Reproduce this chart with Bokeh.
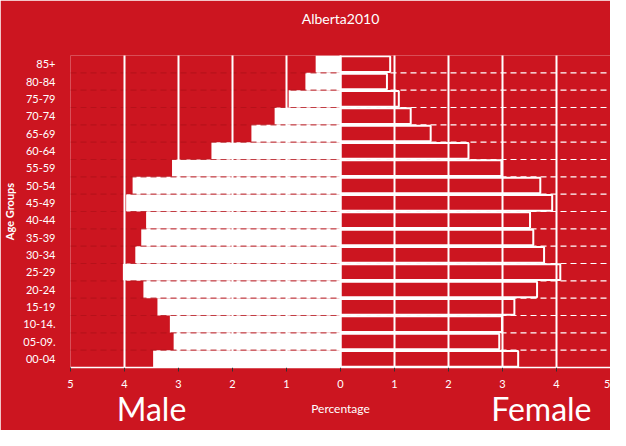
from bokeh.plotting import figure
from bokeh.models import FixedTicker, LinearAxis, Title
from bokeh.embed import file_html
from bokeh.resources import INLINE

age_groups = ["00-04", "05-09.", "10-14.", "15-19", "20-24", "25-29", "30-34", "35-39",
              "40-44", "45-49", "50-54", "55-59", "60-64", "65-69", "70-74", "75-79",
              "80-84", "85+"]
male_pct = [3.47, 3.09, 3.16, 3.39, 3.65, 4.03, 3.80, 3.69, 3.60, 3.97, 3.85, 3.12,
            2.39, 1.65, 1.22, 0.96, 0.65, 0.46]
female_pct = [3.29, 2.94, 2.99, 3.22, 3.64, 4.07, 3.77, 3.57, 3.51, 3.92, 3.70, 2.98,
              2.37, 1.67, 1.30, 1.08, 0.86, 0.92]
x_ticks = [-5, -4, -3, -2, -1, 0, 1, 2, 3, 4, 5]
x_tick_labels = ["5", "4", "3", "2", "1", "0", "1", "2", "3", "4", "5"]
side_ticks = [-3.5, 3.72]
side_labels = ["Male", "Female"]

RED = "#CC1520"
FONT = "Lato"

n = len(age_groups)
y_centers = [i + 0.5 for i in range(n)]
boundaries = [i for i in range(1, n)]
neg_male = [-v for v in male_pct]

p = figure(width=610, height=430, x_range=(-5, 5), y_range=(0, n),
           output_backend="svg", toolbar_location=None,
           min_border_left=60, min_border_right=0, min_border_top=0, min_border_bottom=0)
p.background_fill_color = RED
p.border_fill_color = RED
p.outline_line_color = None

p.title.text = "Alberta2010"
p.title.align = "center"
p.title.text_color = "white"
p.title.text_font = FONT
p.title.text_font_size = "14px"
p.title.text_font_style = "normal"
p.title.standoff = 14

# empty spacer between the title and the plot area
p.add_layout(Title(text=" ", text_font_size="10px", standoff=9), "above")

# right-side dashed row separators
p.segment(x0=0, x1=5, y0=boundaries, y1=boundaries, line_color="white",
          line_dash="6 4", line_width=1.2)

# male bars
p.hbar(y=y_centers, left=neg_male, right=0, height=1.0, fill_color="white",
       line_color=None)

# left-side dashed separators
p.segment(x0=-5, x1=0, y0=boundaries, y1=boundaries, line_color="#B01018",
          line_alpha=0.75, line_dash="6 4", line_width=1.2)

# female bars
p.hbar(y=y_centers, left=0, right=female_pct, height=0.9, fill_color=RED,
       line_color="white", line_width=2)

# axes
xa = p.xaxis[0]
xa.ticker = FixedTicker(ticks=x_ticks)
xa.major_label_overrides = {t: l for t, l in zip(x_ticks, x_tick_labels)}
xa.axis_line_color = "white"
xa.axis_line_width = 1.5
xa.major_tick_line_color = "#333333"
xa.major_tick_out = 4
xa.major_tick_in = 0
xa.minor_tick_line_color = None
xa.major_label_text_color = "white"
xa.major_label_text_font = FONT
xa.major_label_text_font_size = "11px"
xa.major_label_standoff = 8
xa.axis_label = "Percentage"
xa.axis_label_text_color = "white"
xa.axis_label_text_font = FONT
xa.axis_label_text_font_size = "12px"
xa.axis_label_text_font_style = "normal"
xa.axis_label_standoff = 10

side_axis = LinearAxis(ticker=FixedTicker(ticks=side_ticks),
                       major_label_overrides={t: l for t, l in zip(side_ticks, side_labels)},
                       axis_line_color=None, major_tick_line_color=None,
                       minor_tick_line_color=None, major_label_standoff=-36,
                       major_label_text_color="white", major_label_text_font=FONT,
                       major_label_text_font_size="32px")
p.add_layout(side_axis, "below")

ya = p.yaxis[0]
ya.ticker = FixedTicker(ticks=y_centers)
ya.major_label_overrides = {c: l for c, l in zip(y_centers, age_groups)}
ya.axis_line_color = None
ya.major_tick_line_color = None
ya.minor_tick_line_color = None
ya.major_label_text_color = "white"
ya.major_label_text_font = FONT
ya.major_label_text_font_size = "11px"
ya.major_label_standoff = 9
ya.axis_label = "Age Groups"
ya.axis_label_text_color = "white"
ya.axis_label_text_font = FONT
ya.axis_label_text_font_size = "11px"
ya.axis_label_text_font_style = "bold"
ya.axis_label_standoff = 4

p.xgrid.ticker = FixedTicker(ticks=x_ticks)
p.xgrid.grid_line_color = "white"
p.xgrid.grid_line_width = 2
p.xgrid.level = "overlay"
p.ygrid.visible = False

open("out.html", "w").write(file_html(p, INLINE))
